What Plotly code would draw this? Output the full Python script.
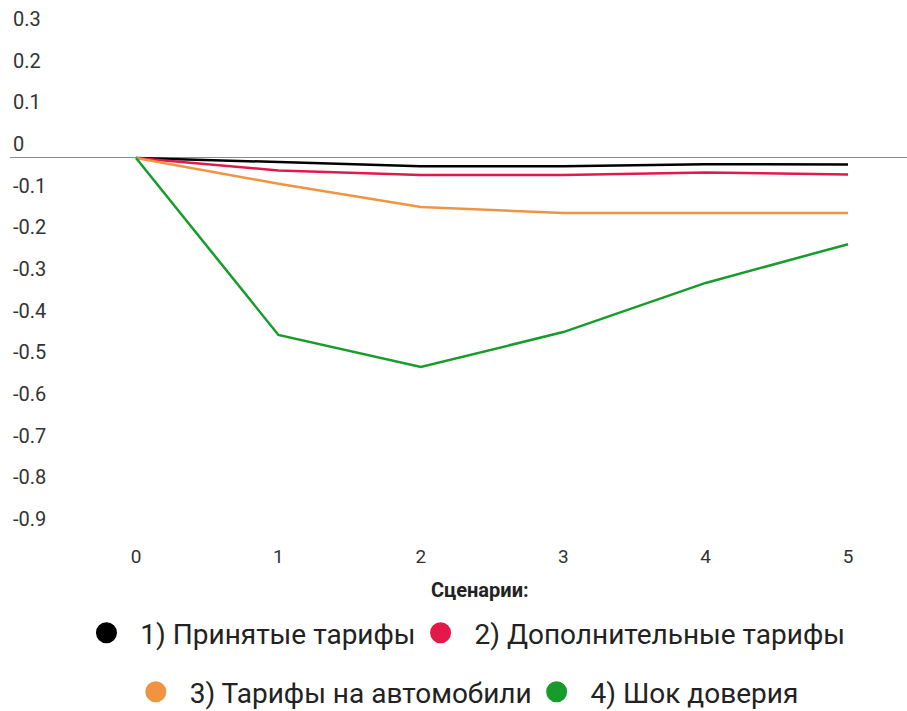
import plotly.graph_objects as go

periods = [0, 1, 2, 3, 4, 5]
names = ["1) Принятые тарифы", "2) Дополнительные тарифы", "3) Тарифы на автомобили", "4) Шок доверия"]
s1 = [0, -0.010, -0.020, -0.020, -0.015, -0.016]
s2 = [0, -0.030, -0.041, -0.041, -0.035, -0.040]
s3 = [0, -0.062, -0.118, -0.132, -0.132, -0.132]
s4 = [0, -0.425, -0.502, -0.418, -0.300, -0.207]
colors = ["#000000", "#e3184b", "#f09441", "#179c2c"]
yticks = [0.3, 0.2, 0.1, 0, -0.1, -0.2, -0.3, -0.4, -0.5, -0.6, -0.7, -0.8, -0.9]

series = [s1, s2, s3, s4]
fig = go.Figure()
for name, vals, c in zip(names, series, colors):
    fig.add_trace(go.Scatter(x=periods, y=vals, mode="lines", line=dict(color=c, width=2.5),
                             showlegend=False, hoverinfo="skip"))
legends = ["legend", "legend", "legend2", "legend2"]
for name, c, lg in zip(names, colors, legends):
    fig.add_trace(go.Scatter(x=[None], y=[None], mode="markers", name="\u00a0\u00a0" + name, legend=lg,
                             marker=dict(color=c, size=16, symbol="circle", line=dict(color=c, width=5))))

fig.update_layout(
    width=907, height=711,
    margin=dict(l=10, r=0, t=0, b=166),
    paper_bgcolor="white", plot_bgcolor="white",
    font=dict(family="Roboto", color="#333333"),
    xaxis=dict(range=[-0.885, 5.414], tickvals=periods, showgrid=False, zeroline=False,
               showline=False, ticks="", tickfont=dict(size=19, color="#333333"),
               ticklabelstandoff=-2),
    yaxis=dict(range=[-0.929, 0.379], tickvals=yticks, ticktext=[str(v) if v != 0 else "0" for v in yticks],
               showgrid=False, zeroline=True, zerolinecolor="#8a8a8a", zerolinewidth=1,
               ticklabelposition="inside top", tickfont=dict(size=20, color="#333333"), ticks=""),
    legend=dict(orientation="h", xref="container", yref="container", x=0.5165, xanchor="center",
                y=0.1097, yanchor="middle",
                font=dict(size=28, color="#222222"), bgcolor="rgba(0,0,0,0)"),
    legend2=dict(orientation="h", xref="container", yref="container", x=0.518, xanchor="center",
                 y=0.0267, yanchor="middle",
                 font=dict(size=28, color="#222222"), bgcolor="rgba(0,0,0,0)"),
    annotations=[dict(text="<b>Сценарии:</b>", x=0.524, y=-0.0826, xref="paper", yref="paper",
                      xanchor="center", yanchor="middle", showarrow=False,
                      font=dict(size=20, color="#222222"))],
)
fig.write_html("out.html", config={"displayModeBar": False},
               post_script="document.body.style.margin='0';")
